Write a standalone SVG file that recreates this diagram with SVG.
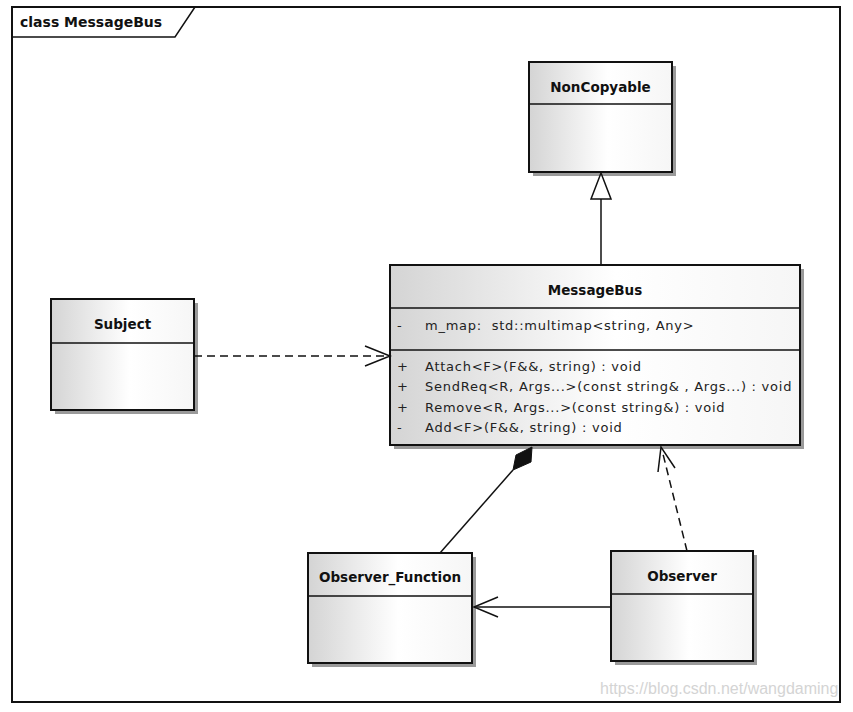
<svg xmlns="http://www.w3.org/2000/svg" width="853" height="712" viewBox="0 0 853 712">
<defs>
<linearGradient id="g" x1="0" y1="0" x2="1" y2="0">
<stop offset="0" stop-color="#d4d4d4"/>
<stop offset="0.55" stop-color="#ffffff"/>
<stop offset="1" stop-color="#f6f6f6"/>
</linearGradient>
<style>
.shadow{fill:#9a9a9a}
.box{fill:url(#g);stroke:#111;stroke-width:2}
.sep{stroke:#111;stroke-width:1.5}
.name{font-family:"DejaVu Sans",sans-serif;font-weight:bold;font-size:13.5px;fill:#111;text-anchor:middle}
.mem{font-family:"DejaVu Sans",sans-serif;font-size:13px;letter-spacing:0.75px;fill:#222}
.line{fill:none;stroke:#111;stroke-width:1.5}
.dash{fill:none;stroke:#111;stroke-width:1.5;stroke-dasharray:8,5}
</style>
</defs>
<rect width="853" height="712" fill="#fff"/>
<g id="frame">
<rect x="12" y="7" width="828" height="695" fill="none" stroke="#111" stroke-width="2"/>
<path d="M12 37 H175 L195 7" fill="none" stroke="#111" stroke-width="1.5"/>
<text x="20" y="27" font-family="DejaVu Sans,sans-serif" font-weight="bold" font-size="14px" fill="#111">class MessageBus</text>
</g>
<g id="NonCopyable">
<rect class="shadow" x="533" y="66" width="143" height="110"/>
<rect class="box" x="529" y="62" width="143" height="110"/>
<line class="sep" x1="529" y1="104" x2="672" y2="104"/>
<text class="name" x="600.5" y="92">NonCopyable</text>
</g>
<g id="MessageBus">
<rect class="shadow" x="394" y="269" width="410" height="180"/>
<rect class="box" x="390" y="265" width="410" height="180"/>
<line class="sep" x1="390" y1="308" x2="800" y2="308"/>
<line class="sep" x1="390" y1="350" x2="800" y2="350"/>
<text class="name" x="595" y="295">MessageBus</text>
<text class="mem" x="397" y="330">-</text>
<text class="mem" x="425" y="330" xml:space="preserve">m_map:  std::multimap&lt;string, Any&gt;</text>
<text class="mem" x="397" y="371">+</text>
<text class="mem" x="425" y="371">Attach&lt;F&gt;(F&amp;&amp;, string) : void</text>
<text class="mem" x="397" y="391">+</text>
<text class="mem" x="425" y="391">SendReq&lt;R, Args...&gt;(const string&amp; , Args...) : void</text>
<text class="mem" x="397" y="412">+</text>
<text class="mem" x="425" y="412">Remove&lt;R, Args...&gt;(const string&amp;) : void</text>
<text class="mem" x="397" y="432">-</text>
<text class="mem" x="425" y="432">Add&lt;F&gt;(F&amp;&amp;, string) : void</text>
</g>
<g id="Subject">
<rect class="shadow" x="55" y="303" width="143" height="111"/>
<rect class="box" x="51" y="299" width="143" height="111"/>
<line class="sep" x1="51" y1="343" x2="194" y2="343"/>
<text class="name" x="122.5" y="329">Subject</text>
</g>
<g id="Observer_Function">
<rect class="shadow" x="312" y="557" width="164" height="110"/>
<rect class="box" x="308" y="553" width="164" height="110"/>
<line class="sep" x1="308" y1="596" x2="472" y2="596"/>
<text class="name" x="390" y="582">Observer_Function</text>
</g>
<g id="Observer">
<rect class="shadow" x="615" y="555" width="142" height="110"/>
<rect class="box" x="611" y="551" width="142" height="110"/>
<line class="sep" x1="611" y1="594" x2="753" y2="594"/>
<text class="name" x="682" y="581">Observer</text>
</g>
<g id="connectors">
<line class="line" x1="601" y1="199" x2="601" y2="265"/>
<path d="M601 173 L611 199 L591 199 Z" fill="#fff" stroke="#111" stroke-width="1.5"/>
<line class="dash" x1="194" y1="356" x2="388" y2="356"/>
<path class="line" d="M365 346 L390 356 L365 366"/>
<line class="line" x1="440" y1="553" x2="513" y2="470"/>
<path d="M532 447 L531 462 L513 470 L516 455 Z" fill="#111" stroke="#111" stroke-width="1"/>
<line class="line" x1="611" y1="607" x2="474" y2="607"/>
<path class="line" d="M498 597 L474 607 L498 617"/>
<line class="dash" x1="687" y1="551" x2="662" y2="450"/>
<path class="line" d="M658 472 L661 447 L675 468"/>
</g>
<text x="600" y="694" font-family="Liberation Sans,Arial,sans-serif" font-size="16px" fill="#d4d4d4">https://blog.csdn.net/wangdaming</text>
</svg>
